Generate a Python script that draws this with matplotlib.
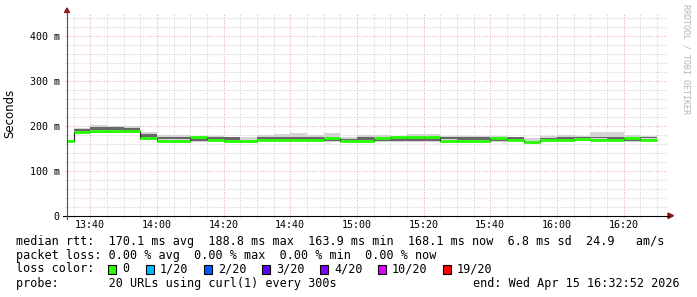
import matplotlib
matplotlib.use("Agg")
import matplotlib.pyplot as plt
import matplotlib.ticker as mtick
from matplotlib.patches import Rectangle, Polygon
from matplotlib.lines import Line2D
import numpy as np

plt.rcParams.update({
    "font.family": "DejaVu Sans Mono",
    "text.parse_math": False,
})

# 5-minute polling rounds (the first is cut by the left edge of the 3 h window)
rounds = ["13:30", "13:35", "13:40", "13:45", "13:50", "13:55",
          "14:00", "14:05", "14:10", "14:15", "14:20", "14:25",
          "14:30", "14:35", "14:40", "14:45", "14:50", "14:55",
          "15:00", "15:05", "15:10", "15:15", "15:20", "15:25",
          "15:30", "15:35", "15:40", "15:45", "15:50", "15:55",
          "16:00", "16:05", "16:10", "16:15", "16:20", "16:25"]
# median rtt per round (ms)
median = [166, 185, 188.8, 188.5, 188, 172.5, 167, 167, 175, 168, 167, 165,
          168, 168, 168, 168, 172, 167, 166, 173.5, 175, 175, 175, 167,
          166, 166, 173.5, 168, 164, 169, 168, 169.5, 169, 168, 173.5, 168.1]
# smoke: full ping spread (min / max) and the dense inner part
smoke_lo = [164, 182, 186, 186, 186, 169, 165, 165, 164, 165, 162, 162,
            165, 165, 165, 165, 164, 164, 164, 164, 164, 164, 164, 165,
            164, 164, 164, 165, 162, 165, 165, 166, 166, 165, 164, 165]
smoke_hi = [168, 195, 201, 200, 200, 187, 179, 179, 178, 177, 176, 175,
            179, 181, 183, 179, 184, 176, 178.5, 180, 178, 182, 182, 178,
            177, 177, 177, 176, 172, 177, 180, 178, 186, 186, 180, 178]
dense_lo = [165, 189, 190, 190, 189, 174, 170, 170, 166, 171, 169, 166,
            171, 171, 171, 170, 165, 168, 169, 166, 165, 165, 165, 170,
            168, 168, 165, 171, 165, 170, 171, 173, 172, 171, 165, 172]
dense_hi = [167, 193, 197, 197, 196, 181, 174, 176, 172, 175, 175, 167,
            174, 175, 176, 176, 171, 171, 174, 171, 172, 172, 172, 175,
            174, 174, 171, 175, 166, 172, 176, 176, 175, 176, 171, 176]

loss_labels = ["0", "1/20", "2/20", "3/20", "4/20", "10/20", "19/20"]
loss_colors = ["#26ff00", "#00b8ff", "#0059ff", "#5e00ff", "#7e00ff", "#dd00ff", "#ff0000"]

W, H = 697, 297


def px(x, y):
    return x / W, 1 - y / H


def to_min(s):
    h, m = s.split(":")
    return int(h) * 60 + int(m)


starts = np.array([to_min(s) for s in rounds], dtype=float)
edges = np.append(starts, starts[-1] + 5)
t0 = 13 * 60 + 32 + 52 / 60
t1 = t0 + 180

fig = plt.figure(figsize=(W / 100, H / 100), dpi=100, facecolor="white")
ax_l, ax_b = px(66.5, 215.7)
ax = fig.add_axes([ax_l, ax_b, 600 / W, 202.5 / H])
ax.set_xlim(t0, t1)
ax.set_ylim(0, 450)
for s in ax.spines.values():
    s.set_visible(False)

# grid
ax.xaxis.set_major_locator(mtick.MultipleLocator(20))
ax.xaxis.set_minor_locator(mtick.MultipleLocator(5))
ax.yaxis.set_major_locator(mtick.FixedLocator([0, 100, 200, 300, 400]))
ax.yaxis.set_minor_locator(mtick.MultipleLocator(20))
ax.grid(which="minor", color="#d2d2d2", linestyle=(0, (1, 1.5)), linewidth=0.75)
ax.grid(which="major", color="#e8b0b0", linestyle=(0, (1, 1.5)), linewidth=0.75)
ax.set_axisbelow(True)
ax.xaxis.set_major_formatter(mtick.FuncFormatter(lambda v, _: f"{int(v)//60:02d}:{int(v)%60:02d}"))
ax.yaxis.set_major_formatter(mtick.FuncFormatter(lambda v, _: "0" if v == 0 else f"{v:.0f} m"))
ax.tick_params(axis="both", which="both", length=1.5, colors="#d2d2d2",
               labelcolor="black", labelsize=7.2)
ax.tick_params(axis="x", which="major", pad=1.5)
ax.tick_params(axis="y", which="major", pad=3.5)

# smoke
ax.stairs(smoke_hi, edges, baseline=smoke_lo, fill=True, color="#d4d4d4", zorder=2)
ax.stairs(dense_hi, edges, baseline=dense_lo, fill=True, color="#686868", zorder=3)
# median: thin dark connector + loss-coloured line
ax.stairs(median, edges, baseline=None, color="#202020", linewidth=0.8, zorder=4)
ax.hlines(median, edges[:-1], edges[1:], color=loss_colors[0], linewidth=2.0, zorder=5)

# axes lines and arrows
fig.add_artist(Line2D(*zip(px(63, 215.7), px(669, 215.7)), color="black", linewidth=0.8))
fig.add_artist(Line2D(*zip(px(67, 219), px(67, 11)), color="#505050", linewidth=0.8))
fig.add_artist(Polygon([px(64.5, 12.5), px(69.5, 12.5), px(67, 8)], closed=True,
                       color="#8b1a1a", transform=fig.transFigure))
fig.add_artist(Polygon([px(668, 213), px(668, 218.5), px(673.5, 215.7)], closed=True,
                       color="#8b1a1a", transform=fig.transFigure))

fig.text(*px(10, 113), "Seconds", rotation=90, ha="center", va="center",
         fontsize=8.5, family="DejaVu Sans")
fig.text(*px(686, 4), "RRDTOOL / TOBI OETIKER", rotation=270, ha="center", va="top",
         fontsize=6, color="#b4b4b4")

# legend block
fs = 8.5
fig.text(*px(16, 241), "median rtt:  170.1 ms avg  188.8 ms max  163.9 ms min  "
         "168.1 ms now  6.8 ms sd  24.9   am/s", fontsize=fs, va="center")
fig.text(*px(16, 255), "packet loss: 0.00 % avg  0.00 % max  0.00 % min  0.00 % now",
         fontsize=fs, va="center")
fig.text(*px(16, 269), "loss color:", fontsize=fs, va="center")
box_x = [108, 146, 204, 262, 320, 378, 443]
for bx, lab, col in zip(box_x, loss_labels, loss_colors):
    fig.add_artist(Rectangle(px(bx, 273.5), 8 / W, 9 / H, transform=fig.transFigure,
                             facecolor=col, edgecolor="black", linewidth=0.8))
    fig.text(*px(bx + 14, 269), lab, fontsize=fs, va="center")
fig.text(*px(16, 284), "probe:       20 URLs using curl(1) every 300s",
         fontsize=fs, va="center")
fig.text(*px(680, 284), "end: Wed Apr 15 16:32:52 2026", fontsize=fs,
         va="center", ha="right")

fig.savefig("out.png", dpi=100, facecolor="white")
